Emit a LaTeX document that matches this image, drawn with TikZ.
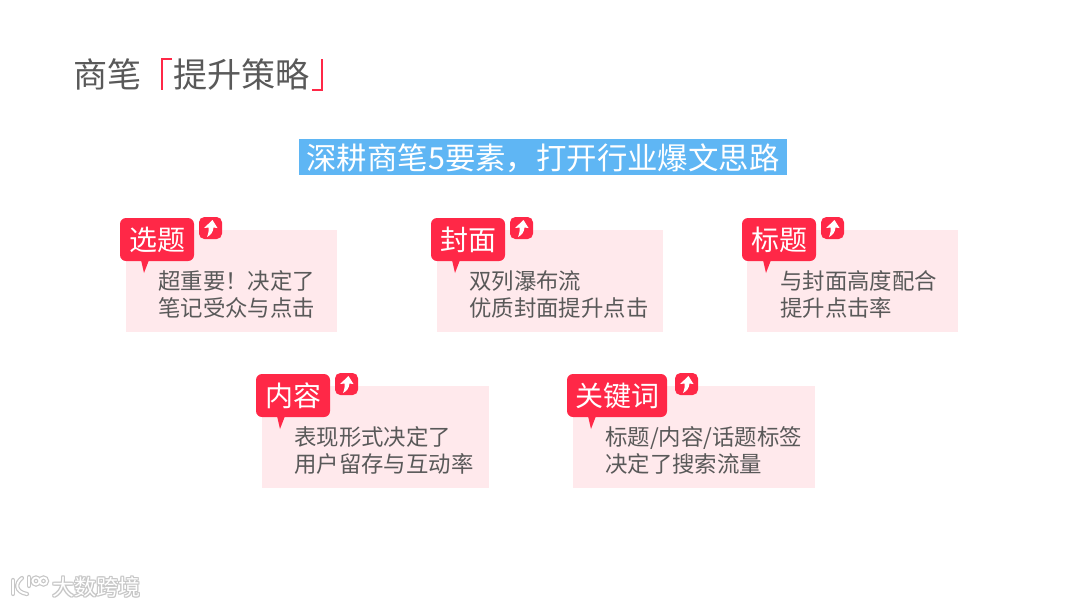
\documentclass[tikz,border=0pt]{standalone}
\usepackage{fontspec}
\setmainfont{Noto Sans CJK SC}
\definecolor{pinkbg}{HTML}{FFE9EC}
\definecolor{redtag}{HTML}{FF2847}
\definecolor{bluebar}{HTML}{5FB6F4}
\definecolor{bodytxt}{HTML}{595959}
\tikzset{
  x=0.75pt,y=-0.75pt,
  panel/.style={fill=pinkbg,draw=none},
  bubble/.style={fill=redtag,draw=none,rounded corners=4.5pt},
  tagtext/.style={text=white,font=\fontsize{21}{24}\selectfont,inner sep=0pt},
  bodytext/.style={text=bodytxt,font=\fontsize{16.8}{20.25}\selectfont,inner sep=0pt,anchor=north west,align=left},
  icobox/.style={fill=redtag,draw=none,rounded corners=4pt},
  icoarrow/.style={fill=white,draw=none},
  headtext/.style={anchor=west,inner sep=0pt,text=bodytxt,font=\fontsize{25.6}{30}\selectfont},
  bracket/.style={redtag,line width=1.8pt},
  marktext/.style={anchor=west,inner sep=0pt,font=\fontsize{16.5}{20}\selectfont},
}
\newcommand{\card}[9]{%
  % #1 name, #2 panel left, #3 panel right, #4 panel top, #5 bubble left, #6 bubble right, #7 tag, #8 body, #9 icon left
  \fill[panel] (#2,#4) rectangle (#3,#4+102);
  \fill[redtag] (#5+21,#4+30) -- (#5+24,#4+43) -- (#5+29,#4+30) -- cycle;
  \path[bubble] (#5,#4-12) rectangle (#6,#4+31);
  \node[tagtext] (#1tag) at ({(#5+#6)/2},#4+10) {#7};
  \node[bodytext] (#1body) at (#5+38,#4+40) {#8};
  \path[icobox] (#9,#4-13) rectangle (#9+23,#4+9);
  \fill[icoarrow] (#9+13.5,#4-10) -- (#9+18.5,#4-2) -- (#9+14.5,#4-2.5)
     .. controls (#9+14,#4+2) and (#9+12,#4+5) .. (#9+8,#4+7)
     .. controls (#9+9.5,#4+3) and (#9+10,#4+0) .. (#9+9.5,#4-2.5) -- (#9+5,#4-2) -- cycle;
}
\begin{document}
\begin{tikzpicture}
\useasboundingbox (0,0) rectangle (1080,608);
\fill[white] (0,0) rectangle (1080,608);
% title
\node[headtext] (title) at (73,74) {商笔};
\node[headtext] (title2) at (173,74) {提升策略};
\draw[bracket] (172,59) -- (162,59) -- (162,90);
\draw[bracket] (312,90) -- (322,90) -- (322,59);
% subtitle
\fill[bluebar] (299,139) rectangle (787,175);
\node[text=white,inner sep=0pt,font=\fontsize{22.8}{28}\selectfont] (sub) at (543,158) {深耕商笔5要素，打开行业爆文思路};
% cards
\card{a}{126}{337}{230}{120}{194}{选题}{超重要！决定了\\笔记受众与点击}{199}
\card{b}{437}{663}{230}{431}{505}{封面}{双列瀑布流\\优质封面提升点击}{510}
\card{c}{747}{958}{230}{742}{816}{标题}{与封面高度配合\\提升点击率}{821}
\card{d}{262}{489}{386}{256}{330}{内容}{表现形式决定了\\用户留存与互动率}{335}
\card{e}{573}{815}{386}{567}{667}{关键词}{标题/内容/话题标签\\决定了搜索流量}{675}
% watermark
\foreach \dx/\dy in {-1/0,1/0,0/-1,0/1,-1/-1,1/1,-1/1,1/-1}{
  \node[marktext,text=black!22] at (52+\dx,587+\dy) {大数跨境};
}
\node[marktext,text=white] (wm) at (52,587) {大数跨境};
\foreach \w/\c in {3.2pt/black!22,1.4pt/white}{
  \draw[\c,line width=\w,line cap=round] (13,580) -- (13,594);
  \draw[\c,line width=\w,line cap=round] (22,578) .. controls (15,583) and (15,592) .. (27,594);
  \draw[\c,line width=\w,line cap=round] (29,577) -- (29,586);
  \draw[\c,line width=\w] (36,581) circle[radius=3.5];
  \draw[\c,line width=\w] (43.5,581) circle[radius=3.5];
}
\end{tikzpicture}
\end{document}
